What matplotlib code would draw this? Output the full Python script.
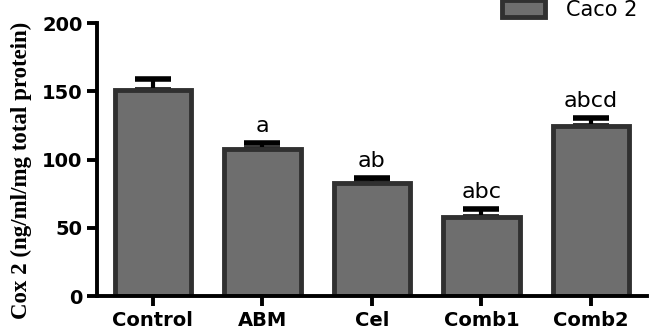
import matplotlib
matplotlib.use("Agg")
import matplotlib.pyplot as plt
import numpy as np

# data
groups = ["Control", "ABM", "Cel", "Comb1", "Comb2"]
means = [151, 108, 82.5, 58, 124.5]
errors = [8, 4, 4, 6, 6]
letters = ["", "a", "ab", "abc", "abcd"]

fig = plt.figure(figsize=(6.62, 3.32), dpi=100)
ax = fig.add_axes([0.1465, 0.1084, 0.8305, 0.8223])

x = np.arange(len(groups))
ax.bar(x, means, width=0.70, color="#6e6e6e", edgecolor="#303030", linewidth=3.5,
       label="Caco 2", zorder=2)
ax.errorbar(x, means, yerr=[np.zeros(len(means)), errors], fmt="none", ecolor="black",
            elinewidth=3, capsize=13, capthick=4, zorder=1)

# significance letters above the error bars
for xi, m, e, t in zip(x, means, errors, letters):
    ax.text(xi, m + e + 5, t, ha="center", va="bottom", fontsize=16,
            family="DejaVu Sans")

ax.set_xlim(-0.51, 4.51)
ax.set_ylim(0, 200)
ax.set_yticks([0, 50, 100, 150, 200])
ax.set_xticks(x)
ax.set_xticklabels(groups)

for lab in ax.get_xticklabels() + ax.get_yticklabels():
    lab.set_fontweight("bold")
    lab.set_fontsize(14)
    lab.set_family("DejaVu Sans")

ax.spines["top"].set_visible(False)
ax.spines["right"].set_visible(False)
ax.spines["left"].set_linewidth(2.8)
ax.spines["bottom"].set_linewidth(2.8)
ax.tick_params(axis="both", width=2.8, length=7)

ax.set_ylabel("Cox 2 (ng/ml/mg total protein)", fontsize=16.5, fontweight="bold",
              family="Liberation Serif", labelpad=3)
ax.yaxis.set_label_coords(-0.118, 0.46)

leg = fig.legend(loc="upper left", bbox_to_anchor=(502 / 662, 1.0), frameon=False,
                 prop={"family": "DejaVu Sans", "size": 15},
                 borderpad=0, borderaxespad=0,
                 handlelength=2.07, handleheight=0.87, handletextpad=1.0)

fig.savefig("out.png", dpi=100)
